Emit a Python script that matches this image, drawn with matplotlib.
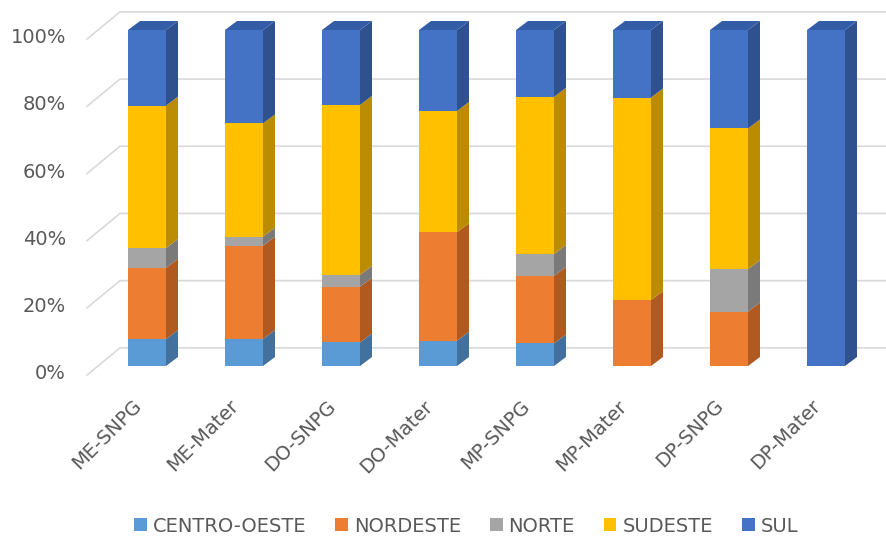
import matplotlib.pyplot as plt
from matplotlib.patches import Polygon, Patch

categorias = ["ME-SNPG", "ME-Mater", "DO-SNPG", "DO-Mater",
              "MP-SNPG", "MP-Mater", "DP-SNPG", "DP-Mater"]
regioes = ["CENTRO-OESTE", "NORDESTE", "NORTE", "SUDESTE", "SUL"]

# participação (%) de cada região por categoria
centro_oeste = [8.0, 8.0, 7.0, 7.5, 6.7, 0.0, 0.0, 0.0]
nordeste = [21.2, 27.8, 16.6, 32.3, 20.1, 19.6, 16.2, 0.0]
norte = [5.9, 2.7, 3.5, 0.0, 6.5, 0.0, 12.6, 0.0]
sudeste = [42.4, 33.7, 50.6, 36.1, 46.8, 60.3, 41.9, 0.0]
sul = [22.5, 27.8, 22.3, 24.1, 19.9, 20.1, 29.3, 100.0]

series = [centro_oeste, nordeste, norte, sudeste, sul]
cor_frente = ["#5B9BD5", "#ED7D31", "#A5A5A5", "#FFC000", "#4472C4"]
cor_lado = ["#41719C", "#B05A22", "#7A7A7A", "#BC8C00", "#2F528F"]
cor_topo = ["#4F88BE", "#D26E2A", "#929292", "#E0A800", "#345DA8"]

# escala: 1 categoria = 97 px, 1% = 3.36 px
PX_X, PX_Y = 97.0, 3.36
largura = 38 / PX_X
prof_x, prof_y = 12 / PX_X, 9 / PX_Y          # profundidade das barras
parede_x0, parede_x1 = -60 / PX_X, -27 / PX_X  # parede lateral (frente/fundo)
frente_y, fundo_y = -2.7, 5.4                  # deslocamento da grade

fig = plt.figure(figsize=(8.87, 5.38), dpi=100)
ax = fig.add_axes([0, 0, 1, 1])
ax.set_xlim(-147 / PX_X, (887 - 147) / PX_X)
ax.set_ylim(-172 / PX_Y, 366 / PX_Y)
ax.axis("off")

# grade na parede do fundo + linhas inclinadas da parede lateral
for v in range(0, 101, 20):
    ax.plot([parede_x0, parede_x1, ax.get_xlim()[1]],
            [v + frente_y, v + fundo_y, v + fundo_y],
            color="#D9D9D9", lw=1.2, zorder=0)
    ax.text(-81 / PX_X, v - 2.3, f"{v}%", ha="right", va="center",
            fontsize=14, color="#595959")

x = list(range(len(categorias)))
base = [0.0] * len(categorias)
for k, valores in enumerate(series):
    ax.bar(x, valores, largura, bottom=base, color=cor_frente[k],
           linewidth=0, zorder=2)
    for i, h in enumerate(valores):
        if h <= 0:
            continue
        b = base[i]
        xr = i + largura / 2
        ax.add_patch(Polygon([(xr, b), (xr + prof_x, b + prof_y),
                              (xr + prof_x, b + h + prof_y), (xr, b + h)],
                             closed=True, facecolor=cor_lado[k], lw=0, zorder=2))
        if b + h >= 99.9:
            xl = i - largura / 2
            ax.add_patch(Polygon([(xl, b + h), (xr, b + h),
                                  (xr + prof_x, b + h + prof_y),
                                  (xl + prof_x, b + h + prof_y)],
                                 closed=True, facecolor=cor_topo[k], lw=0, zorder=2))
    base = [b + v for b, v in zip(base, valores)]

for i, nome in enumerate(categorias):
    ax.text(i - 8 / PX_X, -37 / PX_Y, nome, rotation=45, rotation_mode="anchor",
            ha="right", va="center", fontsize=14, color="#595959")

alcas = [Patch(facecolor=c, edgecolor="none") for c in cor_frente]
fig.legend(alcas, regioes, loc="center", bbox_to_anchor=(466 / 887, 1 - 526 / 538),
           ncol=5, frameon=False, fontsize=14, handlelength=0.65, handleheight=0.65,
           handletextpad=0.3, columnspacing=1.5, labelcolor="#595959")

fig.savefig("out.png", dpi=100)
